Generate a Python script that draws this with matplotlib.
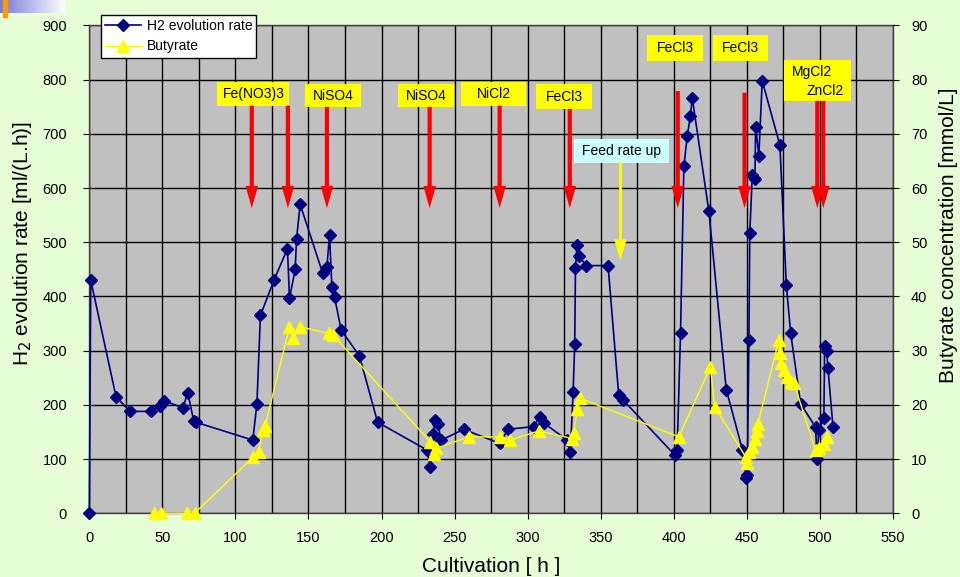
import matplotlib

matplotlib.use("Agg")

import matplotlib.pyplot as plt
import numpy as np
from matplotlib.colors import LinearSegmentedColormap
from matplotlib.patches import Rectangle

plt.rcParams["font.family"] = ["Liberation Sans", "DejaVu Sans"]

# H2 evolution rate [ml/(L.h)] against cultivation time [h]
h2_time = [
    0, 1, 18.3, 27.9, 42, 48.4, 51.4, 64, 67.4, 71.5, 73,
    111.9, 114.7, 117.1, 126.5, 135.6, 137, 140.9, 141.8, 144.3, 159.6,
    162.6, 164.4, 166, 167.8, 172.4, 184.9, 197.3,
    231, 233.4, 235.2, 236.8, 238.4, 240.9, 256.2, 280.8, 286.6, 304.1,
    308.2, 310.9, 327, 329.2, 331.1, 332.2, 332.7, 333.8, 334.9, 340,
    355, 362.3, 365.3, 400.5, 402.3, 404.6, 406.9, 409.2, 411.4, 412.6,
    424, 435.9, 447, 449.5, 450.3, 451.4, 452, 453.7, 455.5, 456,
    458.2, 460.5, 472.6, 477, 480, 486.8, 497, 498, 499.3, 502.7,
    503.2, 504.6, 505.5, 508.9,
]
h2_rate = [
    0, 430, 215, 188, 188, 198, 207, 195, 222, 170, 168,
    135, 202, 365, 431, 488, 397, 450, 506, 570, 444,
    455, 513, 418, 399, 338, 290, 168,
    117, 86, 146, 172, 165, 135, 155, 129, 155, 160,
    178, 167, 135, 113, 224, 313, 452, 495, 475, 457,
    457, 218, 209, 108, 117, 333, 640, 697, 733, 767,
    557, 228, 117, 66, 70, 320, 518, 624, 616, 713,
    660, 798, 679, 421, 332, 202, 159, 100, 154, 175,
    309, 300, 268, 160,
]

# Butyrate concentration [mmol/L]
but_time = [
    44, 49, 67, 72, 112.3, 115.8, 118.8, 120.3, 137, 139.7, 144.3,
    163.7, 166.7, 233.4, 236.1, 237.5, 259.6, 281.3, 288.2, 307.5,
    330.4, 331.5, 333.8, 336.1, 403.4, 425.1, 427.9, 449.2, 450, 451.4,
    453.7, 455.3, 456.7, 457.6, 471.9, 472.6, 473.6, 475.4, 477.2, 479.9,
    482.2, 497, 499.3, 502.7, 505,
]
but_conc = [
    0, 0, 0, 0, 10.4, 11.4, 15.4, 16.1, 34.4, 32.3, 34.4,
    33.2, 32.9, 13.2, 10.9, 12, 14.1, 14.1, 13.5, 15.2,
    13.8, 14.8, 19.2, 21.2, 14.1, 27, 19.7, 10.4, 9.2, 11.4,
    12.3, 13.8, 15.1, 16.5, 32, 29.5, 27.7, 26.4, 25.2, 24.3,
    24, 11.7, 12, 12.8, 14.1,
]

# Additions: label boxes (x0, x1, y0, y1) in H2 axis units
additions = [
    ("Fe(NO3)3", (87.7, 137.0, 752, 795)),
    ("NiSO4", (147.9, 186.1, 750, 791.5)),
    ("NiSO4", (211.2, 249.8, 750, 791.5)),
    ("NiCl2", (254.6, 298.6, 752, 795)),
    ("FeCl3", (306.0, 344.1, 746, 791.5)),
    ("FeCl3", (381.8, 420.1, 835, 882.5)),
    ("FeCl3", (426.5, 464.4, 835, 882.5)),
]
# dosing arrows: (time, top of shaft, tip)
dose_arrows = [
    (111.2, 752, 563), (135.9, 752, 563), (162.6, 750, 563),
    (232.9, 750, 563), (280.8, 752, 563), (328.8, 746, 563),
    (402.7, 779, 563), (448.4, 776, 563), (498.2, 761, 563),
    (502.3, 761, 563),
]

BG = "#E6FFD6"
PLOT_BG = "#C0C0C0"
NAVY = "#000080"
YELLOW = "#FFFF00"
RED = "#FF0000"

fig = plt.figure(figsize=(9.6, 5.77), dpi=100, facecolor=BG)

# corner decoration (gradient strip + orange tab)
logo = fig.add_axes([0, 1 - 12.7 / 577, 65 / 960, 12.7 / 577])
cmap = LinearSegmentedColormap.from_list("strip", ["#7878D6", "#FFFFFF"])
logo.imshow(np.linspace(0, 1, 200)[None, :], aspect="auto", cmap=cmap)
logo.axis("off")
fig.patches.append(Rectangle((3 / 960, 1 - 17 / 577), 4 / 960, 17 / 577,
                             transform=fig.transFigure, color="#FF9900", zorder=5))

ax = fig.add_axes([89.3 / 960, 63.7 / 577, 803.7 / 960, 487.8 / 577])
ax.set_facecolor(PLOT_BG)
ax.set_xlim(0, 550)
ax.set_ylim(0, 900)
ax.set_xticks(np.arange(0, 551, 50))
ax.set_xticks(np.arange(25, 550, 50), minor=True)
ax.set_yticks(np.arange(0, 901, 100))
ax.grid(True, which="both", color="black", linewidth=1.0)
ax.set_axisbelow(True)
ax.tick_params(axis="both", which="major", direction="out", length=4,
               labelsize=10.5, color="black")
ax.tick_params(axis="x", pad=9)
ax.tick_params(axis="y", pad=12)
ax.tick_params(which="minor", length=0)
for sp in ax.spines.values():
    sp.set_color("#404040")
    sp.set_linewidth(1.0)

(h2_line,) = ax.plot(h2_time, h2_rate, color=NAVY, linewidth=1.2, marker="D",
                     markersize=6.5, markerfacecolor=NAVY, markeredgecolor=NAVY,
                     label="H2 evolution rate", zorder=3, clip_on=False)

ax2 = ax.twinx()
ax2.set_ylim(0, 90)
ax2.set_yticks(np.arange(0, 91, 10))
ax2.tick_params(axis="y", direction="out", length=4, labelsize=10.5, pad=9)
for sp in ax2.spines.values():
    sp.set_visible(False)

(but_line,) = ax2.plot(but_time, but_conc, color=YELLOW, linewidth=1.0, marker="^",
                       markersize=9, markerfacecolor=YELLOW, markeredgecolor=YELLOW,
                       label="Butyrate", zorder=3, clip_on=False)

# dosing labels and arrows, drawn on top in H2 units
tr = ax.transData
for name, (x0, x1, y0, y1) in additions:
    ax2.add_patch(Rectangle((x0, y0), x1 - x0, y1 - y0, transform=tr,
                            facecolor=YELLOW, edgecolor="none", zorder=6))
    ax2.text((x0 + x1) / 2, (y0 + y1) / 2, name, transform=tr, ha="center",
             va="center", fontsize=10, zorder=7)

ax2.add_patch(Rectangle((475.1, 761.3), 46.4, 75, transform=tr,
                        facecolor=YELLOW, edgecolor="none", zorder=6))
ax2.text(481.1, 814.8, "MgCl2", transform=tr, ha="left", va="center",
         fontsize=10, zorder=7)
ax2.text(516.4, 779.7, "ZnCl2", transform=tr, ha="right", va="center",
         fontsize=10, zorder=7)

for x, top, tip in dose_arrows:
    ax2.annotate("", xy=(x, tip), xytext=(x, top), xycoords=tr, textcoords=tr,
                 arrowprops=dict(arrowstyle="simple,tail_width=0.3,head_width=0.9,head_length=1.6",
                                 mutation_scale=10, facecolor=RED, edgecolor="none",
                                 shrinkA=0, shrinkB=0), zorder=6)

# feed rate change
ax2.add_patch(Rectangle((332.0, 646.9), 65.0, 43.7, transform=tr,
                        facecolor="#CCFFFF", edgecolor="none", zorder=6))
ax2.text(364.5, 668.7, "Feed rate up", transform=tr, ha="center", va="center",
         fontsize=10, zorder=7)
ax2.annotate("", xy=(363.5, 467), xytext=(363.5, 646.9), xycoords=tr, textcoords=tr,
             arrowprops=dict(arrowstyle="simple,tail_width=0.2,head_width=0.9,head_length=1.5",
                             mutation_scale=10, facecolor=YELLOW, edgecolor="none",
                             shrinkA=0, shrinkB=0), zorder=6)

leg = fig.legend(handles=[h2_line, but_line], loc="upper left",
                 bbox_to_anchor=(100.7 / 960, 1 - 15 / 577), fontsize=10,
                 frameon=True, fancybox=False, framealpha=1, edgecolor="black",
                 handlelength=2.6, labelspacing=0.45, borderpad=0.3,
                 handletextpad=0.4, borderaxespad=0)
leg.get_frame().set_linewidth(1.0)

fig.text(491 / 960, 1 - 567 / 577, "Cultivation [ h ]", ha="center", va="center",
         fontsize=15)
fig.text(23 / 960, 1 - 244 / 577, r"H$_2$ evolution rate [ml/(L.h)]", ha="center",
         va="center", rotation=90, fontsize=15)
fig.text(948 / 960, 1 - 235 / 577, "Butyrate concentration [mmol/L]", ha="center",
         va="center", rotation=90, fontsize=15)

fig.savefig("out.png", dpi=100, facecolor=BG)
